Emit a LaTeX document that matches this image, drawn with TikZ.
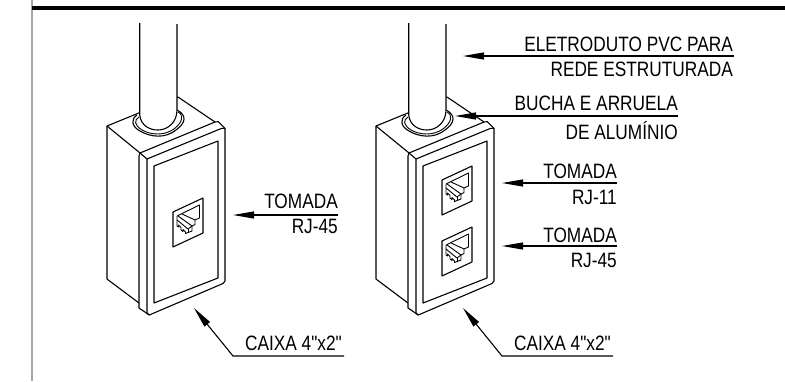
\documentclass[tikz,border=0pt]{standalone}
\usepackage{fontspec}
\newfontfamily\rotulofont[FakeStretch=0.83]{Liberation Sans}
\usetikzlibrary{arrows.meta,calc}

\tikzset{
    caixa/.pic={
        % Face superior e lateral
        \draw[traco] (107,126) -- (178,97) -- (215,122) -- (218.3,121.7) -- (225,128.3) -- (225,281) -- (223,283.5) -- (149.3,315) -- (139,308) -- (139,156) -- (140,153) -- (107,126) -- cycle;
        \draw[traco] (107,126) -- (107,279) -- (139,303);
        \draw[traco] (140,153) -- (215,122);
        \draw[traco] (140,153) -- (147,159) -- (221.7,128.3) -- (225,128.3);
        \draw[traco] (147,159) -- (147,313) -- (149.3,315);
        % Abertura frontal
        \draw[traco] (154,166) -- (218,141) -- (218,278) -- (154,303) -- cycle;
        % Bucha e arruela
        \draw[traco, fill=white] (137,115) .. controls (131,119) and (131,126) .. (140,131) .. controls (150,137) and (165,139) .. (176,130) .. controls (186,123) and (187,115) .. (177,110);
        \draw[fino] (139,117) .. controls (134,120) and (134,125) .. (142,130) .. controls (151,135) and (164,136) .. (174,129) .. controls (183,122) and (184,115) .. (178,112);
        % Eletroduto
        \fill[white] (139.7,23) -- (139.7,115) .. controls (141,126) and (150,130) .. (158,130) .. controls (168,130) and (177,122) .. (177,110) -- (177,23) -- cycle;
        \draw[traco] (139.7,23) -- (139.7,115) .. controls (141,126) and (150,130) .. (158,130) .. controls (168,130) and (177,122) .. (177,110) -- (177,24);
    },
    tomada/.pic={
        \draw[traco] (0,0) -- (30,-14) -- (30,21) -- (0,35) -- cycle;
        \draw[fino] (4,4) -- (26.5,-7) -- (26.5,6) -- (22,8);
        \draw[fino] (4,4) -- (4,14) -- (5.5,15) -- (5.5,13) -- (8,15.5) -- (8,18) -- (10,19.5) -- (10,17.5) -- (12.5,20) -- (12.5,21.5) -- (19,19) -- (19,14);
        \draw[fino] (9,2) -- (22,8) -- (22,12.5) -- (19,14) -- (5,4);
        \draw[fino] (4,8) -- (15,17) -- (19,14);
        \draw[fino] (15,17) -- (15,20.5);
    }
}

\begin{document}
\begin{tikzpicture}[x=1pt, y=-1pt]
    \tikzstyle{traco} = [draw=black, line width=1.1pt, line join=round]
    \tikzstyle{fino} = [draw=black, line width=0.9pt, line join=round]
    \tikzstyle{rotulo} = [inner sep=0pt, font=\rotulofont\fontsize{20.8}{22}\selectfont]
    \tikzstyle{seta} = [line width=1.1pt, -{Stealth[length=21pt, width=7pt, inset=0pt]}]

    \useasboundingbox (0,0) rectangle (785,381);

    % Moldura
    \coordinate (m1) at (32,0);
    \coordinate (m2) at (32,381);
    \coordinate (m3) at (32,8);
    \coordinate (m4) at (785,8);
    \draw[gray!70, line width=1.6pt] (m1) -- (m2);
    \draw[line width=3.6pt] (m3) -- (m4);

    % Caixas
    \pic at (0,0) {caixa};
    \pic at (269,0) {caixa};

    % Tomadas
    \pic at (173,212) {tomada};
    \pic at (442,180) {tomada};
    \pic at (442,241) {tomada};

    % Eletroduto
    \node[rotulo, anchor=base east] (el1) at (733,51) {ELETRODUTO PVC PARA};
    \node[rotulo, anchor=base east] (el2) at (733,76) {REDE ESTRUTURADA};
    \coordinate (el0) at (734,56);
    \coordinate (elp) at (463,56);
    \draw[seta] (el0) -- (elp);

    % Bucha
    \node[rotulo, anchor=base east] (bu1) at (678,110) {BUCHA E ARRUELA};
    \node[rotulo, anchor=base east] (bu2) at (678,139) {DE ALUMÍNIO};
    \coordinate (bu0) at (678,116);
    \coordinate (bup) at (455,116);
    \draw[seta] (bu0) -- (bup);

    % Tomada RJ-11
    \node[rotulo, anchor=base east] (tb1) at (617,178) {TOMADA};
    \node[rotulo, anchor=base east] (tb2) at (617,204) {RJ-11};
    \coordinate (tb0) at (617,183);
    \coordinate (tbp) at (502,183);
    \draw[seta] (tb0) -- (tbp);

    % Tomada RJ-45 da direita
    \node[rotulo, anchor=base east] (tc1) at (617,242) {TOMADA};
    \node[rotulo, anchor=base east] (tc2) at (617,267) {RJ-45};
    \coordinate (tc0) at (617,246);
    \coordinate (tcp) at (502,246);
    \draw[seta] (tc0) -- (tcp);

    % Tomada RJ-45 da esquerda
    \node[rotulo, anchor=base east] (ta1) at (338,208) {TOMADA};
    \node[rotulo, anchor=base east] (ta2) at (338,233) {RJ-45};
    \coordinate (ta0) at (338,215);
    \coordinate (tap) at (233,215);
    \draw[seta] (ta0) -- (tap);

    % Caixa 4x2 da esquerda
    \node[rotulo, anchor=base east] (ca1) at (342,350) {CAIXA 4"x2"};
    \coordinate (ca0) at (344,356);
    \coordinate (cac) at (233,356);
    \coordinate (cap) at (194,308);
    \draw[seta] (ca0) -- (cac) -- (cap);

    % Caixa 4x2 da direita
    \node[rotulo, anchor=base east] (cb1) at (611,350) {CAIXA 4"x2"};
    \coordinate (cb0) at (613,356);
    \coordinate (cbc) at (502,356);
    \coordinate (cbp) at (463,308);
    \draw[seta] (cb0) -- (cbc) -- (cbp);
\end{tikzpicture}
\end{document}
